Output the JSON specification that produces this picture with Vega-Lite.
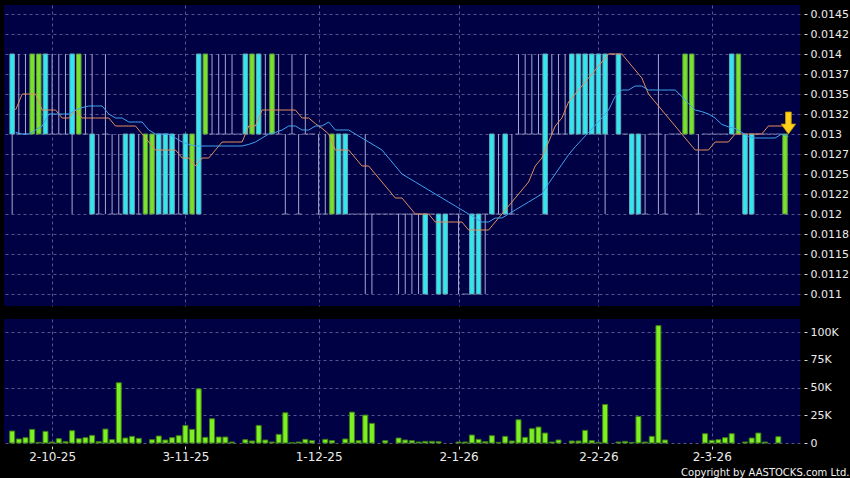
{
"$schema":"https://vega.github.io/schema/vega-lite/v6.json",
"background":"#000000",
"padding":{"left":4,"top":5,"right":0,"bottom":0},
"config":{"view":{"stroke":null,"fill":"#000045"},"font":"DejaVu Sans",
"axis":{"gridColor":"#55558f","gridDash":[3,3],"gridWidth":1,"tickColor":"#d8d8d8","labelColor":"#ececec","labelFont":"DejaVu Sans","domain":false,"title":null}},
"title":{"text":"Copyright by AASTOCKS.com Ltd.","orient":"bottom","anchor":"end","color":"#f0f0f0","fontSize":10,"font":"DejaVu Sans","fontWeight":"normal","offset":6,"dx":1},
"data":{"values":[
{"i":0,"d":"2025-09-23","o":0.013,"h":0.014,"l":0.012,"c":0.014,"v":10800,"m10":0.0133,"m20":0.01302},
{"i":1,"d":"2025-09-24","o":0.013,"h":0.014,"l":0.013,"c":0.013,"v":3600,"m10":0.0135,"m20":0.0130},
{"i":2,"d":"2025-09-25","o":0.013,"h":0.014,"l":0.013,"c":0.013,"v":4800,"m10":0.0135,"m20":0.0130},
{"i":3,"d":"2025-09-26","o":0.014,"h":0.014,"l":0.013,"c":0.013,"v":12300,"m10":0.0135,"m20":0.01305},
{"i":4,"d":"2025-09-29","o":0.014,"h":0.014,"l":0.013,"c":0.013,"v":600,"m10":0.0133,"m20":0.0131},
{"i":5,"d":"2025-09-30","o":0.013,"h":0.014,"l":0.013,"c":0.014,"v":10500,"m10":0.0133,"m20":0.01325},
{"i":6,"d":"2025-10-02","o":0.013,"h":0.014,"l":0.013,"c":0.013,"v":900,"m10":0.0133,"m20":0.01325},
{"i":7,"d":"2025-10-03","o":0.013,"h":0.014,"l":0.013,"c":0.013,"v":3900,"m10":0.0132,"m20":0.01325},
{"i":8,"d":"2025-10-06","o":0.013,"h":0.014,"l":0.013,"c":0.013,"v":1200,"m10":0.0132,"m20":0.01325},
{"i":9,"d":"2025-10-08","o":0.013,"h":0.014,"l":0.012,"c":0.014,"v":11100,"m10":0.0133,"m20":0.0133},
{"i":10,"d":"2025-10-09","o":0.014,"h":0.014,"l":0.013,"c":0.013,"v":3900,"m10":0.0132,"m20":0.01333},
{"i":11,"d":"2025-10-10","o":0.013,"h":0.014,"l":0.013,"c":0.013,"v":4800,"m10":0.0132,"m20":0.01335},
{"i":12,"d":"2025-10-13","o":0.012,"h":0.014,"l":0.012,"c":0.013,"v":6900,"m10":0.0132,"m20":0.01335},
{"i":13,"d":"2025-10-14","o":0.012,"h":0.013,"l":0.012,"c":0.012,"v":1200,"m10":0.0132,"m20":0.01335},
{"i":14,"d":"2025-10-15","o":0.013,"h":0.014,"l":0.012,"c":0.013,"v":12600,"m10":0.0132,"m20":0.01325},
{"i":15,"d":"2025-10-16","o":0.012,"h":0.013,"l":0.012,"c":0.012,"v":3000,"m10":0.0131,"m20":0.0132},
{"i":16,"d":"2025-10-17","o":0.012,"h":0.013,"l":0.012,"c":0.012,"v":54400,"m10":0.0131,"m20":0.0132},
{"i":17,"d":"2025-10-20","o":0.012,"h":0.013,"l":0.012,"c":0.013,"v":4500,"m10":0.0131,"m20":0.01315},
{"i":18,"d":"2025-10-21","o":0.012,"h":0.013,"l":0.012,"c":0.013,"v":6000,"m10":0.0131,"m20":0.01315},
{"i":19,"d":"2025-10-22","o":0.012,"h":0.013,"l":0.012,"c":0.012,"v":4200,"m10":0.0130,"m20":0.01315},
{"i":20,"d":"2025-10-23","o":0.013,"h":0.013,"l":0.012,"c":0.012,"v":0,"m10":0.0129,"m20":0.01305},
{"i":21,"d":"2025-10-24","o":0.013,"h":0.013,"l":0.012,"c":0.012,"v":3000,"m10":0.0128,"m20":0.0130},
{"i":22,"d":"2025-10-27","o":0.012,"h":0.013,"l":0.012,"c":0.013,"v":6300,"m10":0.0128,"m20":0.0130},
{"i":23,"d":"2025-10-28","o":0.012,"h":0.013,"l":0.012,"c":0.013,"v":2700,"m10":0.0128,"m20":0.0130},
{"i":24,"d":"2025-10-30","o":0.012,"h":0.013,"l":0.012,"c":0.013,"v":4800,"m10":0.0128,"m20":0.01295},
{"i":25,"d":"2025-10-31","o":0.012,"h":0.013,"l":0.012,"c":0.012,"v":6600,"m10":0.0127,"m20":0.0129},
{"i":26,"d":"2025-11-03","o":0.012,"h":0.013,"l":0.012,"c":0.013,"v":15900,"m10":0.0127,"m20":0.01287},
{"i":27,"d":"2025-11-04","o":0.013,"h":0.013,"l":0.012,"c":0.012,"v":12300,"m10":0.0126,"m20":0.01285},
{"i":28,"d":"2025-11-05","o":0.012,"h":0.014,"l":0.012,"c":0.014,"v":48900,"m10":0.0127,"m20":0.01285},
{"i":29,"d":"2025-11-06","o":0.014,"h":0.014,"l":0.013,"c":0.013,"v":5100,"m10":0.0127,"m20":0.01285},
{"i":30,"d":"2025-11-07","o":0.013,"h":0.014,"l":0.013,"c":0.013,"v":21900,"m10":0.0128,"m20":0.01285},
{"i":31,"d":"2025-11-10","o":0.013,"h":0.014,"l":0.013,"c":0.013,"v":5400,"m10":0.0129,"m20":0.01285},
{"i":32,"d":"2025-11-11","o":0.013,"h":0.014,"l":0.013,"c":0.013,"v":5400,"m10":0.0129,"m20":0.01285},
{"i":33,"d":"2025-11-12","o":0.013,"h":0.014,"l":0.013,"c":0.013,"v":900,"m10":0.0129,"m20":0.01285},
{"i":34,"d":"2025-11-13","o":0.013,"h":0.013,"l":0.013,"c":0.013,"v":0,"m10":0.0129,"m20":0.01285},
{"i":35,"d":"2025-11-14","o":0.013,"h":0.014,"l":0.013,"c":0.014,"v":3000,"m10":0.0131,"m20":0.01287},
{"i":36,"d":"2025-11-17","o":0.014,"h":0.014,"l":0.013,"c":0.013,"v":1800,"m10":0.0131,"m20":0.0129},
{"i":37,"d":"2025-11-18","o":0.013,"h":0.014,"l":0.013,"c":0.014,"v":15900,"m10":0.0133,"m20":0.01295},
{"i":38,"d":"2025-11-19","o":0.013,"h":0.014,"l":0.013,"c":0.013,"v":2700,"m10":0.0133,"m20":0.0130},
{"i":39,"d":"2025-11-20","o":0.014,"h":0.014,"l":0.013,"c":0.013,"v":900,"m10":0.0133,"m20":0.01302},
{"i":40,"d":"2025-11-21","o":0.013,"h":0.014,"l":0.013,"c":0.013,"v":7800,"m10":0.0133,"m20":0.01305},
{"i":41,"d":"2025-11-24","o":0.012,"h":0.013,"l":0.012,"c":0.012,"v":27300,"m10":0.0133,"m20":0.0131},
{"i":42,"d":"2025-11-25","o":0.013,"h":0.014,"l":0.013,"c":0.013,"v":300,"m10":0.0133,"m20":0.0131},
{"i":43,"d":"2025-11-26","o":0.012,"h":0.013,"l":0.012,"c":0.012,"v":900,"m10":0.0132,"m20":0.01305},
{"i":44,"d":"2025-11-27","o":0.013,"h":0.014,"l":0.013,"c":0.013,"v":3300,"m10":0.0132,"m20":0.01305},
{"i":45,"d":"2025-11-28","o":0.013,"h":0.013,"l":0.013,"c":0.013,"v":2100,"m10":0.01313,"m20":0.0131},
{"i":46,"d":"2025-12-01","o":0.012,"h":0.013,"l":0.012,"c":0.012,"v":0,"m10":0.01307,"m20":0.0131},
{"i":47,"d":"2025-12-02","o":0.012,"h":0.013,"l":0.012,"c":0.012,"v":3300,"m10":0.0130,"m20":0.01315},
{"i":48,"d":"2025-12-03","o":0.013,"h":0.013,"l":0.012,"c":0.012,"v":2100,"m10":0.0128,"m20":0.01305},
{"i":49,"d":"2025-12-04","o":0.012,"h":0.013,"l":0.012,"c":0.013,"v":0,"m10":0.0128,"m20":0.01305},
{"i":50,"d":"2025-12-05","o":0.012,"h":0.013,"l":0.012,"c":0.013,"v":3600,"m10":0.0128,"m20":0.01305},
{"i":51,"d":"2025-12-08","o":0.012,"h":0.012,"l":0.012,"c":0.012,"v":27900,"m10":0.0127,"m20":0.0130},
{"i":52,"d":"2025-12-09","o":0.012,"h":0.012,"l":0.012,"c":0.012,"v":2100,"m10":0.0126,"m20":0.01295},
{"i":53,"d":"2025-12-10","o":0.012,"h":0.013,"l":0.011,"c":0.012,"v":25200,"m10":0.0126,"m20":0.0129},
{"i":54,"d":"2025-12-11","o":0.012,"h":0.012,"l":0.011,"c":0.012,"v":17700,"m10":0.0125,"m20":0.01285},
{"i":55,"d":"2025-12-12","o":0.012,"h":0.012,"l":0.012,"c":0.012,"v":0,"m10":0.0124,"m20":0.0128},
{"i":56,"d":"2025-12-15","o":0.012,"h":0.012,"l":0.012,"c":0.012,"v":2100,"m10":0.0123,"m20":0.0127},
{"i":57,"d":"2025-12-16","o":0.012,"h":0.012,"l":0.012,"c":0.012,"v":0,"m10":0.0122,"m20":0.0126},
{"i":58,"d":"2025-12-17","o":0.012,"h":0.012,"l":0.011,"c":0.012,"v":4500,"m10":0.0122,"m20":0.0125},
{"i":59,"d":"2025-12-18","o":0.012,"h":0.012,"l":0.011,"c":0.012,"v":2700,"m10":0.0121,"m20":0.01245},
{"i":60,"d":"2025-12-19","o":0.012,"h":0.012,"l":0.011,"c":0.012,"v":2100,"m10":0.0120,"m20":0.0124},
{"i":61,"d":"2025-12-22","o":0.012,"h":0.012,"l":0.011,"c":0.012,"v":900,"m10":0.0120,"m20":0.01235},
{"i":62,"d":"2025-12-23","o":0.011,"h":0.012,"l":0.011,"c":0.012,"v":1500,"m10":0.0120,"m20":0.0123},
{"i":63,"d":"2025-12-24","o":0.012,"h":0.012,"l":0.012,"c":0.012,"v":1500,"m10":0.0119,"m20":0.01225},
{"i":64,"d":"2025-12-29","o":0.011,"h":0.012,"l":0.011,"c":0.012,"v":1200,"m10":0.0119,"m20":0.0122},
{"i":65,"d":"2025-12-30","o":0.011,"h":0.012,"l":0.011,"c":0.012,"v":0,"m10":0.0119,"m20":0.01215},
{"i":66,"d":"2025-12-31","o":0.012,"h":0.012,"l":0.012,"c":0.012,"v":0,"m10":0.0119,"m20":0.0121},
{"i":67,"d":"2026-01-02","o":0.012,"h":0.012,"l":0.011,"c":0.012,"v":900,"m10":0.0119,"m20":0.01205},
{"i":68,"d":"2026-01-05","o":0.011,"h":0.011,"l":0.011,"c":0.011,"v":900,"m10":0.0118,"m20":0.0120},
{"i":69,"d":"2026-01-06","o":0.011,"h":0.012,"l":0.011,"c":0.012,"v":7200,"m10":0.0118,"m20":0.01195},
{"i":70,"d":"2026-01-07","o":0.011,"h":0.012,"l":0.011,"c":0.012,"v":3300,"m10":0.0118,"m20":0.0119},
{"i":71,"d":"2026-01-08","o":0.012,"h":0.012,"l":0.011,"c":0.012,"v":1200,"m10":0.0118,"m20":0.0119},
{"i":72,"d":"2026-01-09","o":0.012,"h":0.013,"l":0.012,"c":0.013,"v":6600,"m10":0.0119,"m20":0.01195},
{"i":73,"d":"2026-01-12","o":0.012,"h":0.013,"l":0.012,"c":0.012,"v":600,"m10":0.0120,"m20":0.01195},
{"i":74,"d":"2026-01-13","o":0.012,"h":0.013,"l":0.012,"c":0.013,"v":6000,"m10":0.0121,"m20":0.0120},
{"i":75,"d":"2026-01-14","o":0.012,"h":0.013,"l":0.012,"c":0.012,"v":1800,"m10":0.0122,"m20":0.01205},
{"i":76,"d":"2026-01-15","o":0.013,"h":0.014,"l":0.013,"c":0.013,"v":21000,"m10":0.0123,"m20":0.0121},
{"i":77,"d":"2026-01-16","o":0.013,"h":0.014,"l":0.013,"c":0.013,"v":5100,"m10":0.0124,"m20":0.01215},
{"i":78,"d":"2026-01-19","o":0.013,"h":0.014,"l":0.013,"c":0.013,"v":12900,"m10":0.0126,"m20":0.0122},
{"i":79,"d":"2026-01-20","o":0.013,"h":0.014,"l":0.013,"c":0.013,"v":14400,"m10":0.0127,"m20":0.01225},
{"i":80,"d":"2026-01-21","o":0.012,"h":0.014,"l":0.012,"c":0.014,"v":9000,"m10":0.0129,"m20":0.01238},
{"i":81,"d":"2026-01-22","o":0.013,"h":0.014,"l":0.013,"c":0.013,"v":900,"m10":0.0131,"m20":0.0125},
{"i":82,"d":"2026-01-23","o":0.013,"h":0.014,"l":0.013,"c":0.013,"v":2700,"m10":0.0132,"m20":0.01262},
{"i":83,"d":"2026-01-26","o":0.013,"h":0.014,"l":0.013,"c":0.013,"v":0,"m10":0.0134,"m20":0.01274},
{"i":84,"d":"2026-01-27","o":0.013,"h":0.014,"l":0.013,"c":0.014,"v":1800,"m10":0.0135,"m20":0.01284},
{"i":85,"d":"2026-01-28","o":0.013,"h":0.014,"l":0.013,"c":0.014,"v":1800,"m10":0.0136,"m20":0.01293},
{"i":86,"d":"2026-01-29","o":0.013,"h":0.014,"l":0.013,"c":0.014,"v":11400,"m10":0.0137,"m20":0.01302},
{"i":87,"d":"2026-01-30","o":0.013,"h":0.014,"l":0.013,"c":0.014,"v":2100,"m10":0.0138,"m20":0.01311},
{"i":88,"d":"2026-02-02","o":0.013,"h":0.014,"l":0.013,"c":0.014,"v":600,"m10":0.0139,"m20":0.0132},
{"i":89,"d":"2026-02-03","o":0.013,"h":0.014,"l":0.012,"c":0.014,"v":34800,"m10":0.0140,"m20":0.0133},
{"i":90,"d":"2026-02-04","o":0.014,"h":0.014,"l":0.014,"c":0.014,"v":0,"m10":0.0140,"m20":0.01347},
{"i":91,"d":"2026-02-05","o":0.013,"h":0.014,"l":0.013,"c":0.014,"v":900,"m10":0.0140,"m20":0.01355},
{"i":92,"d":"2026-02-06","o":0.013,"h":0.013,"l":0.013,"c":0.013,"v":1500,"m10":0.0139,"m20":0.01355},
{"i":93,"d":"2026-02-09","o":0.012,"h":0.013,"l":0.012,"c":0.013,"v":600,"m10":0.0138,"m20":0.0136},
{"i":94,"d":"2026-02-10","o":0.012,"h":0.013,"l":0.012,"c":0.013,"v":24000,"m10":0.0137,"m20":0.0136},
{"i":95,"d":"2026-02-11","o":0.012,"h":0.013,"l":0.012,"c":0.012,"v":900,"m10":0.0135,"m20":0.01355},
{"i":96,"d":"2026-02-12","o":0.013,"h":0.013,"l":0.013,"c":0.013,"v":6000,"m10":0.0134,"m20":0.01355},
{"i":97,"d":"2026-02-13","o":0.013,"h":0.014,"l":0.012,"c":0.013,"v":106000,"m10":0.0133,"m20":0.01355},
{"i":98,"d":"2026-02-16","o":0.012,"h":0.013,"l":0.012,"c":0.012,"v":2700,"m10":0.0132,"m20":0.01355},
{"i":99,"d":"2026-02-20","o":0.013,"h":0.013,"l":0.013,"c":0.013,"v":0,"m10":0.0131,"m20":0.01355},
{"i":100,"d":"2026-02-23","o":0.013,"h":0.013,"l":0.013,"c":0.013,"v":0,"m10":0.0130,"m20":0.01347},
{"i":101,"d":"2026-02-24","o":0.014,"h":0.014,"l":0.013,"c":0.013,"v":0,"m10":0.0129,"m20":0.01338},
{"i":102,"d":"2026-02-25","o":0.014,"h":0.014,"l":0.013,"c":0.013,"v":0,"m10":0.0128,"m20":0.0133},
{"i":103,"d":"2026-02-26","o":0.012,"h":0.013,"l":0.012,"c":0.012,"v":0,"m10":0.0128,"m20":0.01328},
{"i":104,"d":"2026-02-27","o":0.013,"h":0.013,"l":0.013,"c":0.013,"v":8400,"m10":0.0128,"m20":0.01325},
{"i":105,"d":"2026-03-02","o":0.013,"h":0.013,"l":0.013,"c":0.013,"v":2400,"m10":0.0129,"m20":0.0132},
{"i":106,"d":"2026-03-03","o":0.013,"h":0.013,"l":0.013,"c":0.013,"v":3000,"m10":0.0129,"m20":0.01312},
{"i":107,"d":"2026-03-04","o":0.013,"h":0.013,"l":0.013,"c":0.013,"v":4800,"m10":0.0129,"m20":0.01309},
{"i":108,"d":"2026-03-05","o":0.013,"h":0.014,"l":0.013,"c":0.014,"v":8400,"m10":0.0130,"m20":0.01307},
{"i":109,"d":"2026-03-06","o":0.014,"h":0.014,"l":0.013,"c":0.013,"v":0,"m10":0.0130,"m20":0.01302},
{"i":110,"d":"2026-03-09","o":0.012,"h":0.013,"l":0.012,"c":0.013,"v":900,"m10":0.0130,"m20":0.01297},
{"i":111,"d":"2026-03-10","o":0.012,"h":0.013,"l":0.012,"c":0.013,"v":4500,"m10":0.0130,"m20":0.01295},
{"i":112,"d":"2026-03-11","o":0.013,"h":0.013,"l":0.013,"c":0.013,"v":9000,"m10":0.0130,"m20":0.01295},
{"i":113,"d":"2026-03-12","o":0.013,"h":0.013,"l":0.013,"c":0.013,"v":900,"m10":0.0131,"m20":0.01295},
{"i":114,"d":"2026-03-13","o":0.013,"h":0.013,"l":0.013,"c":0.013,"v":0,"m10":0.0131,"m20":0.01295},
{"i":115,"d":"2026-03-16","o":0.013,"h":0.013,"l":0.013,"c":0.013,"v":5700,"m10":0.0131,"m20":0.0130},
{"i":116,"d":"2026-03-17","o":0.013,"h":0.013,"l":0.012,"c":0.012,"v":0,"m10":0.0131,"m20":0.01297}
]},
"spacing":13,
"vconcat":[
{"width":796,"height":301,
"encoding":{"x":{"field":"i","type":"quantitative","scale":{"domain":[-0.474,117.5],"nice":false,"zero":false},
"axis":{"values":[6,26,46,67,88,105],"labels":false,"ticks":false,"grid":true}}},
"layer":[
{"transform":[{"filter":"datum.l < datum.h"}],"mark":{"type":"rule","color":"#a8a8d0","strokeWidth":1},
"encoding":{"y":{"field":"l","type":"quantitative","scale":{"domain":[0.01085,0.0146125],"nice":false,"zero":false},
"axis":{"orient":"right","values":[0.011,0.01125,0.0115,0.01175,0.012,0.01225,0.0125,0.01275,0.013,0.01325,0.0135,0.01375,0.014,0.01425,0.0145],"labelExpr":"['0.011','0.0112','0.0115','0.0118','0.012','0.0122','0.0125','0.0127','0.013','0.0132','0.0135','0.0137','0.014','0.0142','0.0145'][round((datum.value-0.011)/0.00025)]","offset":4,"tickSize":3,"labelPadding":3,"labelFontSize":11,"grid":true}},"y2":{"field":"h"}}},
{"transform":[{"filter":"datum.o == datum.c"}],"mark":{"type":"tick","orient":"horizontal","size":6,"thickness":1,"color":"#a8a8d0"},
"encoding":{"y":{"field":"c","type":"quantitative",
"axis":{"orient":"right","values":[0.011,0.01125,0.0115,0.01175,0.012,0.01225,0.0125,0.01275,0.013,0.01325,0.0135,0.01375,0.014,0.01425,0.0145],"labelExpr":"['0.011','0.0112','0.0115','0.0118','0.012','0.0122','0.0125','0.0127','0.013','0.0132','0.0135','0.0137','0.014','0.0142','0.0145'][round((datum.value-0.011)/0.00025)]","offset":4,"tickSize":3,"labelPadding":3,"labelFontSize":11,"grid":true}}}},
{"transform":[{"filter":"datum.o != datum.c"}],"mark":{"type":"bar","width":4.5,"strokeWidth":1},
"encoding":{"y":{"field":"o","type":"quantitative",
"axis":{"orient":"right","values":[0.011,0.01125,0.0115,0.01175,0.012,0.01225,0.0125,0.01275,0.013,0.01325,0.0135,0.01375,0.014,0.01425,0.0145],"labelExpr":"['0.011','0.0112','0.0115','0.0118','0.012','0.0122','0.0125','0.0127','0.013','0.0132','0.0135','0.0137','0.014','0.0142','0.0145'][round((datum.value-0.011)/0.00025)]","offset":4,"tickSize":3,"labelPadding":3,"labelFontSize":11,"grid":true}},"y2":{"field":"c"},
"fill":{"condition":{"test":"datum.c > datum.o","value":"#30e8f0"},"value":"#7ae22a"},
"stroke":{"condition":{"test":"datum.c > datum.o","value":"#6aa6b4"},"value":"#5a9a48"}}},
{"mark":{"type":"line","color":"#e48e5c","strokeWidth":1,"xOffset":3.4},"encoding":{"y":{"field":"m10","type":"quantitative",
"axis":{"orient":"right","values":[0.011,0.01125,0.0115,0.01175,0.012,0.01225,0.0125,0.01275,0.013,0.01325,0.0135,0.01375,0.014,0.01425,0.0145],"labelExpr":"['0.011','0.0112','0.0115','0.0118','0.012','0.0122','0.0125','0.0127','0.013','0.0132','0.0135','0.0137','0.014','0.0142','0.0145'][round((datum.value-0.011)/0.00025)]","offset":4,"tickSize":3,"labelPadding":3,"labelFontSize":11,"grid":true}}}},
{"mark":{"type":"line","color":"#40a4f0","strokeWidth":1,"xOffset":3.4},"encoding":{"y":{"field":"m20","type":"quantitative",
"axis":{"orient":"right","values":[0.011,0.01125,0.0115,0.01175,0.012,0.01225,0.0125,0.01275,0.013,0.01325,0.0135,0.01375,0.014,0.01425,0.0145],"labelExpr":"['0.011','0.0112','0.0115','0.0118','0.012','0.0122','0.0125','0.0127','0.013','0.0132','0.0135','0.0137','0.014','0.0142','0.0145'][round((datum.value-0.011)/0.00025)]","offset":4,"tickSize":3,"labelPadding":3,"labelFontSize":11,"grid":true}}}},
{"transform":[{"filter":"datum.i == 116"}],"mark":{"type":"point","shape":"M -0.26 -2 L 0.26 -2 L 0.26 -0.9 L 0.66 -0.9 L 0 0 L -0.66 -0.9 L -0.26 -0.9 Z","size":484,"filled":true,"fill":"#ffd21a","stroke":"#c89600","strokeWidth":0.8,"opacity":1,"xOffset":3.4},
"encoding":{"y":{"field":"o","type":"quantitative",
"axis":{"orient":"right","values":[0.011,0.01125,0.0115,0.01175,0.012,0.01225,0.0125,0.01275,0.013,0.01325,0.0135,0.01375,0.014,0.01425,0.0145],"labelExpr":"['0.011','0.0112','0.0115','0.0118','0.012','0.0122','0.0125','0.0127','0.013','0.0132','0.0135','0.0137','0.014','0.0142','0.0145'][round((datum.value-0.011)/0.00025)]","offset":4,"tickSize":3,"labelPadding":3,"labelFontSize":11,"grid":true}}}}
]},
{"width":796,"height":124,
"transform":[{"filter":"datum.v > 0"}],
"mark":{"type":"bar","width":5,"fill":"#7df023","stroke":"#3f7c16","strokeWidth":1},
"encoding":{
"x":{"field":"i","type":"quantitative","scale":{"domain":[-0.474,117.5],"nice":false,"zero":false},
"axis":{"values":[6,26,46,67,88,105],"labelExpr":"['2-10-25','3-11-25','1-12-25','2-1-26','2-2-26','2-3-26'][indexof([6,26,46,67,88,105], datum.value)]","grid":true,"offset":3,"tickSize":3,"labelPadding":2,"labelFontSize":12}},
"y":{"field":"v","type":"quantitative","scale":{"domain":[0,112000],"nice":false},
"axis":{"orient":"right","values":[0,25000,50000,75000,100000],"labelExpr":"datum.value == 0 ? '0' : format(datum.value/1000,'d') + 'K'","offset":4,"tickSize":3,"labelPadding":3,"labelFontSize":11,"grid":true}}}}
]
}
